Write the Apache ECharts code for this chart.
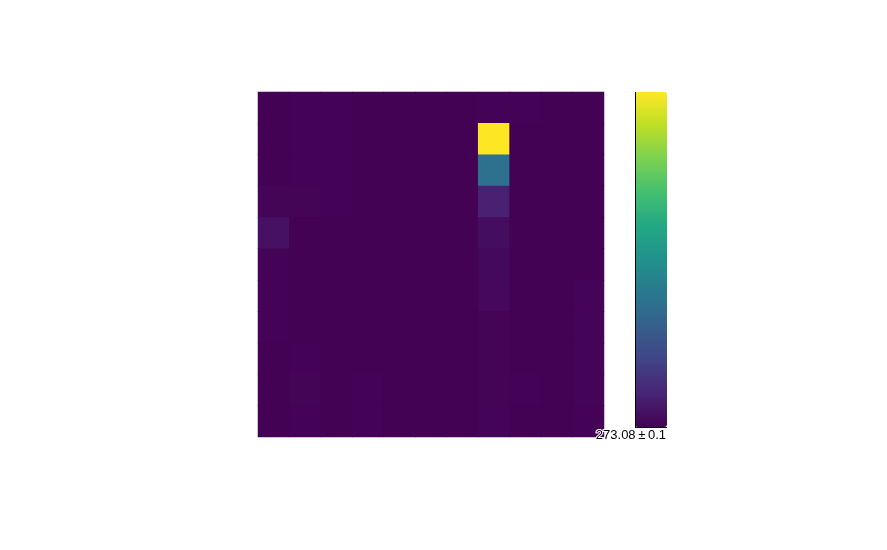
<!DOCTYPE html>
<html>
<head>
<meta charset="utf-8">
<script src="https://cdn.jsdelivr.net/npm/echarts@6/dist/echarts.min.js"></script>
<style>
    html, body {margin: 0; padding: 0; background: #fff;}
    #main {width: 887px; height: 550px;}
</style>
</head>
<body>
<div id="main"></div>
<script>
    // 11 x 11 grid, rows listed from top to bottom
    const xCats = ['0', '1', '2', '3', '4', '5', '6', '7', '8', '9', '10']
    const yCats = ['10', '9', '8', '7', '6', '5', '4', '3', '2', '1', '0']
    const rows = [
        [0.3, 0.6, 0.6, 0.4, 0.3, 0.2, 0.4, 0.5, 0.7, 0.3, 0.2],
        [0.4, 0.7, 0.7, 0.3, 0.2, 0.2, 0.2, 100, 0.3, 0.2, 0.2],
        [0.4, 0.7, 0.6, 0.3, 0.3, 0.4, 0.2, 37, 0.3, 0.2, 0.2],
        [1.0, 1.0, 0.7, 0.3, 0.2, 0.2, 0.2, 9, 0.3, 0.2, 0.2],
        [4.5, 0.4, 0.3, 0.3, 0.4, 0.2, 0.2, 3.5, 0.3, 0.2, 0.2],
        [0.5, 0.4, 0.3, 0.3, 0.4, 0.2, 0.2, 2.2, 0.3, 0.2, 0.3],
        [0.5, 0.4, 0.4, 0.3, 0.3, 0.2, 0.4, 2.0, 0.4, 0.4, 0.9],
        [0.5, 0.4, 0.3, 0.3, 0.3, 0.4, 0.4, 1.0, 0.4, 0.4, 0.9],
        [0.4, 0.5, 0.3, 0.3, 0.3, 0.4, 0.3, 1.0, 0.4, 0.3, 0.9],
        [0.4, 1.0, 0.4, 0.7, 0.3, 0.4, 0.4, 1.0, 0.7, 0.3, 0.9],
        [0.4, 0.5, 0.4, 0.5, 0.3, 0.3, 0.4, 0.9, 0.4, 0.3, 0.7]
    ]
    const scaleLabel = '273.08\u2009\u00b1\u20090.1'
    const viridis = ['#440154', '#482475', '#414487', '#355f8d', '#2a788e', '#21918c',
        '#22a884', '#44bf70', '#7ad151', '#bddf26', '#fde725']

    const data = []
    rows.forEach((row, r) => {
        row.forEach((v, c) => {
            data.push([c, r, v])
        })
    })

    const myChart = echarts.init(document.getElementById('main'))

    const option = {
        animation: false,
        grid: {
            left: 258,
            top: 92,
            width: 346,
            height: 345,
            show: true,
            backgroundColor: '#440154',
            borderWidth: 0
        },
        xAxis: {
            type: 'category',
            data: xCats,
            show: false
        },
        yAxis: {
            type: 'category',
            data: yCats,
            inverse: true,
            show: false
        },
        visualMap: {
            type: 'continuous',
            min: 0,
            max: 100,
            calculable: false,
            orient: 'vertical',
            left: 635,
            top: 92,
            padding: 0,
            itemWidth: 32,
            itemHeight: 335,
            showLabel: false,
            text: null,
            inRange: {
                color: viridis
            }
        },
        graphic: [
            {
                type: 'line',
                z: 100,
                shape: {x1: 635.5, y1: 92, x2: 635.5, y2: 427.5},
                style: {stroke: '#000', lineWidth: 1}
            },
            {
                type: 'line',
                z: 100,
                shape: {x1: 635, y1: 427.5, x2: 667, y2: 427.5},
                style: {stroke: '#000', lineWidth: 1}
            },
            {
                type: 'text',
                z: 100,
                right: 887 - 667,
                top: 428,
                style: {
                    text: scaleLabel,
                    fill: '#000',
                    stroke: '#fff',
                    lineWidth: 2,
                    font: '13px "Liberation Sans", Arial, sans-serif'
                }
            }
        ],
        series: [
            {
                type: 'heatmap',
                data: data,
                itemStyle: {
                    borderWidth: 0
                }
            }
        ]
    }

    myChart.setOption(option)
</script>
</body>
</html>
